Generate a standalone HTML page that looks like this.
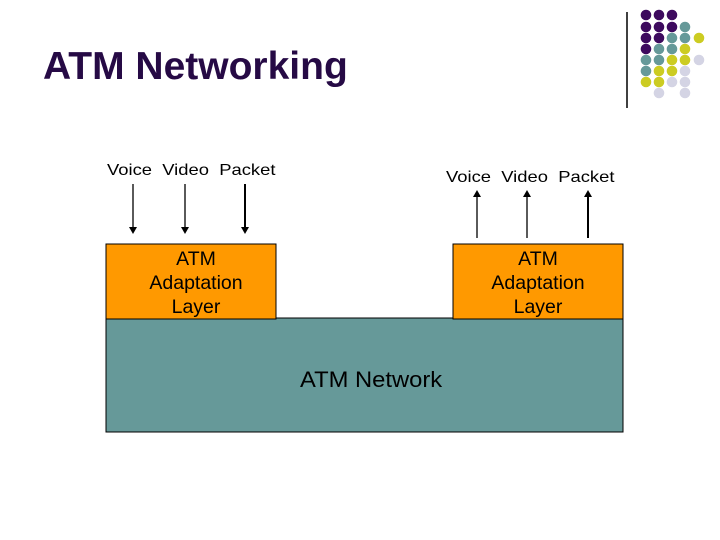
<!DOCTYPE html>
<html><head><style>
body{margin:0;width:720px;height:540px;background:#fff;position:relative;overflow:hidden;font-family:"Liberation Sans",sans-serif}
.t{position:absolute;white-space:nowrap}
</style></head><body>
<div class="t" style="left:43px;top:45px;font-size:39px;font-weight:bold;color:#260a45">ATM Networking</div>
<svg width="720" height="540" style="position:absolute;left:0;top:0">
<line x1="627" y1="12" x2="627" y2="108" stroke="#000" stroke-width="1.5"/>
<g id="dots"></g>
<rect x="106" y="318" width="517" height="114" fill="#669999" stroke="#000" stroke-width="1"/>
<rect x="106" y="244" width="170" height="75" fill="#ff9900" stroke="#000" stroke-width="1"/>
<rect x="453" y="244" width="170" height="75" fill="#ff9900" stroke="#000" stroke-width="1"/>
<g stroke="#000" stroke-width="1.3">
<line x1="133" y1="184" x2="133" y2="228"/><line x1="185" y1="184" x2="185" y2="228"/><line x1="245" y1="184" x2="245" y2="228" stroke-width="2"/>
<line x1="477" y1="238" x2="477" y2="196"/><line x1="527" y1="238" x2="527" y2="196"/><line x1="588" y1="238" x2="588" y2="196" stroke-width="2"/>
</g>
<g fill="#000">
<polygon points="129,227 137,227 133,234"/><polygon points="181,227 189,227 185,234"/><polygon points="241,227 249,227 245,234"/>
<polygon points="473,197 481,197 477,190"/><polygon points="523,197 531,197 527,190"/><polygon points="584,197 592,197 588,190"/>
</g>
</svg>
<div class="t" style="left:107px;top:162px;font-size:16px;transform:scaleX(1.15);transform-origin:left">Voice&nbsp; Video&nbsp; Packet</div>
<div class="t" style="left:446px;top:169px;font-size:16px;transform:scaleX(1.15);transform-origin:left">Voice&nbsp; Video&nbsp; Packet</div>
<div class="t" style="left:106px;width:180px;top:247px;font-size:19.5px;text-align:center;line-height:24px">ATM<br>Adaptation<br>Layer</div>
<div class="t" style="left:448px;width:180px;top:247px;font-size:19.5px;text-align:center;line-height:24px">ATM<br>Adaptation<br>Layer</div>
<div class="t" style="left:300px;top:367px;font-size:22px;transform:scaleX(1.08);transform-origin:left">ATM Network</div>
<script>
var P="#3d0a5e",T="#669999",Y="#cccc22",L="#d4d4e4";
var rows=[[P,P,P],[P,P,P,T],[P,P,T,T,Y],[P,T,T,Y],[T,T,Y,Y,L],[T,Y,Y,L],[Y,Y,L,L],[null,L,null,L]];
var xs=[646,659,672,685,699],ys=[15,27,38,49,60,71,82,93],s="";
rows.forEach(function(r,i){r.forEach(function(c,j){if(c)s+='<circle cx="'+xs[j]+'" cy="'+ys[i]+'" r="5.3" fill="'+c+'"/>';});});
document.getElementById("dots").innerHTML=s;
</script>
</body></html>
